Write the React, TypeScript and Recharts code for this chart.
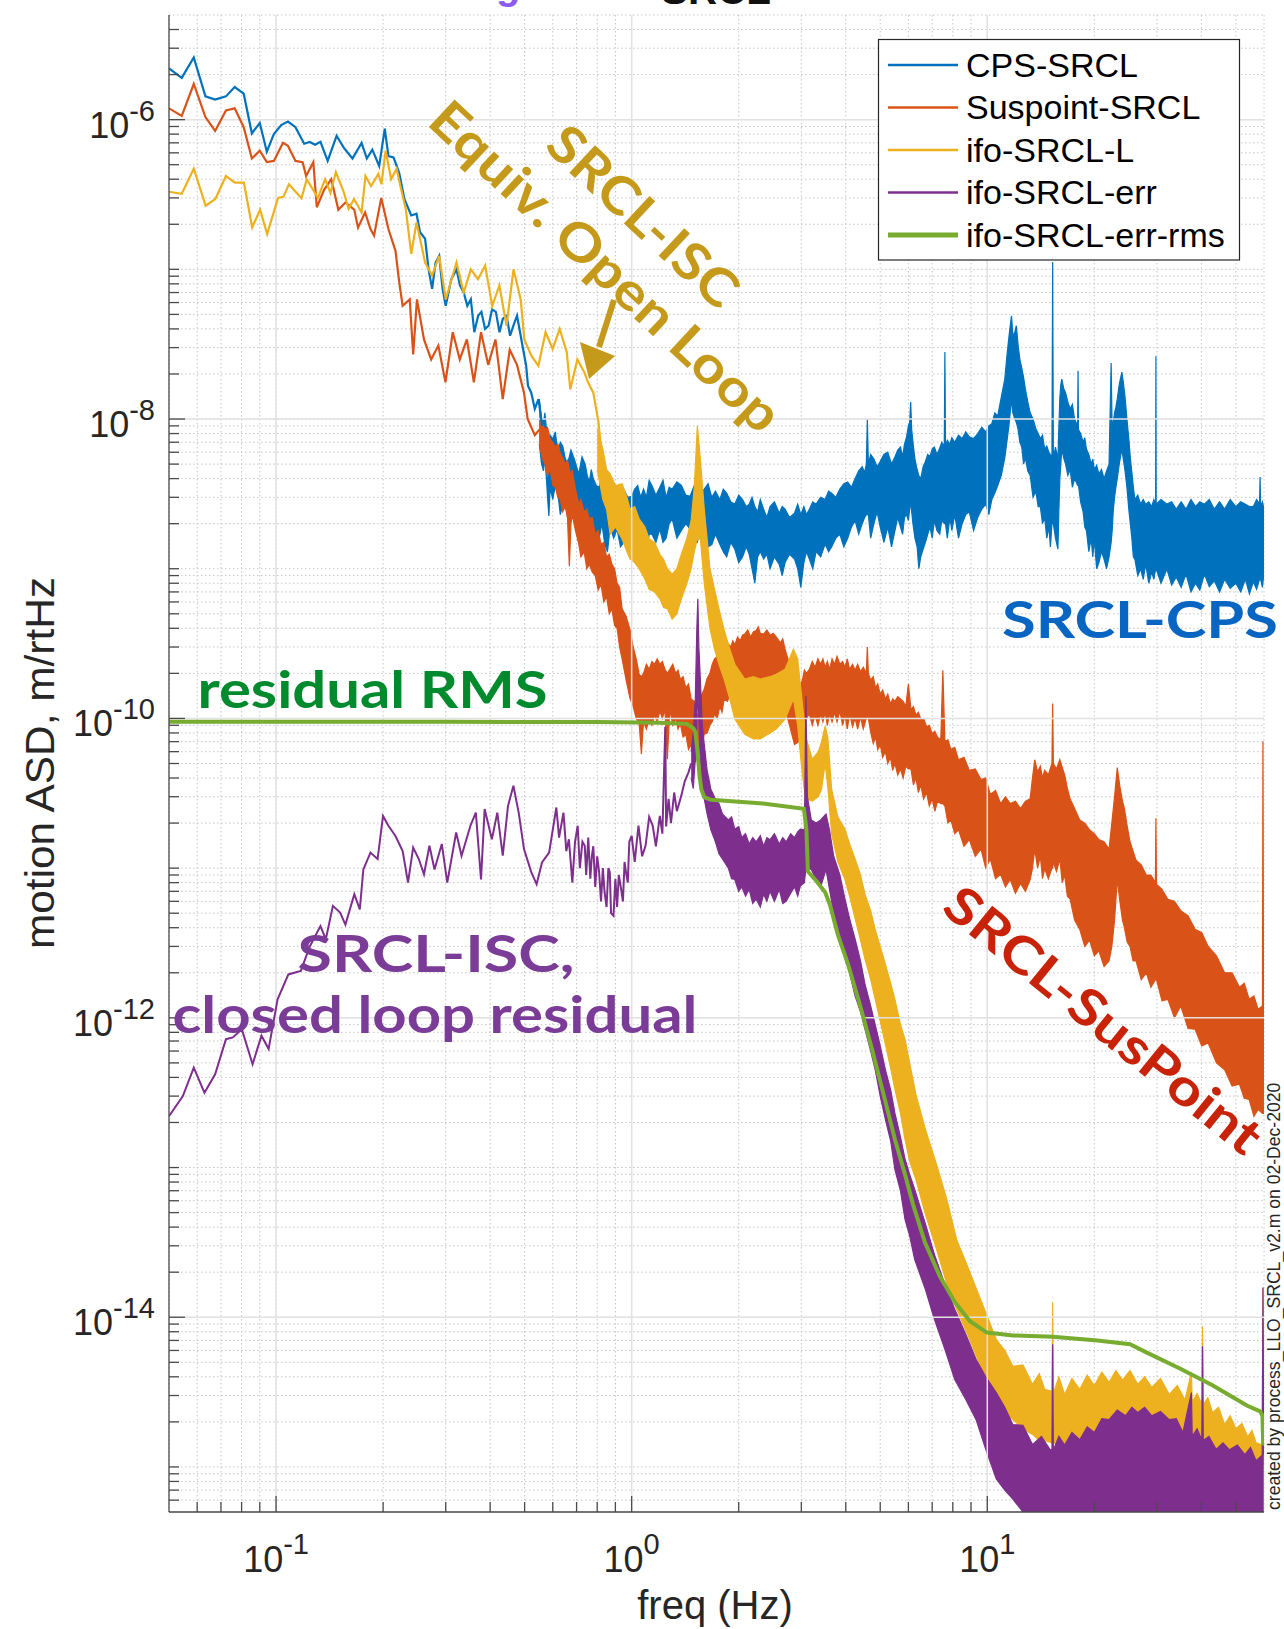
import React from 'react';
import { ComposedChart, Line, Area, XAxis, YAxis, CartesianGrid } from 'recharts';

type P = [number, number];
type B = [number, number, number];

// ---------------- data (freq Hz, ASD m/rtHz) ----------------
const cpsLine: P[] = [
  [0.05,2.2e-6],[0.0543,1.9e-6],[0.0587,2.6e-6],[0.0633,1.43e-6],[0.0674,1.36e-6],[0.0723,1.43e-6],[0.0765,1.65e-6],[0.0811,1.49e-6],[0.0855,8.1e-7],[0.09,9.5e-7],[0.0942,6.1e-7],[0.0986,8.0e-7],[0.1034,9.2e-7],[0.108,9.7e-7],[0.1134,8.9e-7],[0.12,6.9e-7],[0.1243,7.1e-7],[0.1288,6.8e-7],[0.1333,7.1e-7],[0.1397,5.3e-7],[0.148,7.8e-7],[0.155,6.5e-7],[0.164,5.5e-7],[0.174,7.0e-7],[0.18,5.5e-7],[0.1865,6.3e-7],[0.195,4.9e-7],[0.2022,8.7e-7],[0.207,5.7e-7],[0.214,5.6e-7],[0.222,4.4e-7],[0.2295,2.95e-7],[0.24,2.29e-7],[0.2483,2.35e-7],[0.254,1.77e-7],[0.2625,1.6e-7],[0.2685,1.0e-7],[0.2747,7.4e-8],[0.281,1.11e-7],[0.2876,1.23e-7],[0.294,7.4e-8],[0.3,5.7e-8],[0.311,8.6e-8],[0.3217,1.0e-7],[0.329,7.8e-8],[0.337,7.0e-8],[0.345,5.7e-8],[0.353,6.3e-8],[0.361,3.8e-8],[0.37,4.9e-8],[0.378,5.2e-8],[0.387,4.0e-8],[0.396,4.2e-8],[0.405,5.4e-8],[0.415,5.2e-8],[0.425,3.8e-8],[0.434,4.66e-8],[0.445,4.9e-8],[0.455,3.6e-8],[0.465,4.2e-8],[0.476,4.9e-8],[0.4875,3.6e-8],[0.493,3.1e-8],[0.505,2.27e-8],[0.511,1.67e-8],[0.522,1.5e-8],[0.534,1.17e-8],[0.547,1.36e-8],[0.56,9.0e-9]
];
const cpsBand: B[] = [
  [0.55,6.8e-9,1.36e-8],[0.558,5.0e-9,1.0e-8],[0.565,4.5e-9,9.5e-9],[0.57,5.5e-9,1.1e-8],[0.576,4.0e-9,8.6e-9],[0.58,3.0e-9,8.0e-9],[0.585,2.25e-9,7.0e-9],[0.59,3.5e-9,7.8e-9],[0.6,2.9e-9,7.35e-9],[0.61,3.6e-9,8.2e-9],[0.62,3.2e-9,6.0e-9],[0.63,2.3e-9,7.0e-9],[0.64,2.7e-9,6.6e-9],[0.65,3.2e-9,5.5e-9],[0.66,2.2e-9,5.0e-9],[0.675,2.8e-9,6.2e-9],[0.69,2.5e-9,5.4e-9],[0.7,1.9e-9,4.8e-9],[0.71,2.0e-9,4.3e-9],[0.725,2.5e-9,5.6e-9],[0.74,2.15e-9,5.0e-9],[0.75,1.6e-9,4.2e-9],[0.76,1.7e-9,3.8e-9],[0.77,2.2e-9,4.6e-9],[0.78,1.99e-9,4.0e-9],[0.795,1.5e-9,3.6e-9],[0.81,1.6e-9,3.5e-9],[0.825,2.0e-9,4.1e-9],[0.84,1.46e-9,3.6e-9],[0.855,1.3e-9,3.2e-9],[0.87,1.9e-9,3.0e-9],[0.89,1.6e-9,3.7e-9],[0.91,1.84e-9,3.25e-9],[0.93,1.4e-9,2.9e-9],[0.95,1.5e-9,3.4e-9],[0.975,1.9e-9,3.0e-9],[1.0,1.7e-9,3.05e-9],[1.02,1.3e-9,3.4e-9],[1.04,1.45e-9,3.6e-9],[1.06,1.8e-9,3.0e-9],[1.08,1.58e-9,3.4e-9],[1.1,1.25e-9,3.0e-9],[1.12,1.7e-9,3.9e-9],[1.14,1.7e-9,3.6e-9],[1.17,1.5e-9,3.1e-9],[1.2,1.84e-9,3.5e-9],[1.225,1.5e-9,3.9e-9],[1.25,1.6e-9,3.0e-9],[1.275,2.0e-9,3.5e-9],[1.3,2.15e-9,3.4e-9],[1.34,1.6e-9,3.8e-9],[1.38,1.8e-9,3.6e-9],[1.42,2.0e-9,3.1e-9],[1.46,1.84e-9,3.05e-9],[1.5,1.5e-9,3.6e-9],[1.53,1.5e-9,3.6e-9],[1.56,1.9e-9,3.2e-9],[1.6,1.7e-9,3.4e-9],[1.64,1.4e-9,3.7e-9],[1.68,1.45e-9,3.0e-9],[1.72,1.7e-9,3.3e-9],[1.77,1.46e-9,2.9e-9],[1.81,1.3e-9,3.4e-9],[1.85,1.2e-9,3.2e-9],[1.9,1.5e-9,2.8e-9],[1.95,1.35e-9,2.7e-9],[2.0,1.1e-9,3.1e-9],[2.05,1.2e-9,2.9e-9],[2.1,1.4e-9,2.6e-9],[2.14,1.25e-9,2.7e-9],[2.18,1.0e-9,3.0e-9],[2.22,8.0e-10,2.6e-9],[2.26,1.2e-9,2.4e-9],[2.3,1.3e-9,2.9e-9],[2.35,1.16e-9,2.5e-9],[2.4,1.25e-9,2.2e-9],[2.45,1.0e-9,2.6e-9],[2.52,1.2e-9,2.8e-9],[2.6,1.07e-9,2.35e-9],[2.65,9.0e-10,2.6e-9],[2.7,1.1e-9,2.5e-9],[2.78,1.25e-9,2.2e-9],[2.87,1.16e-9,2.35e-9],[2.93,1.0e-9,2.7e-9],[2.99,7.5e-10,2.3e-9],[3.05,1.1e-9,2.6e-9],[3.1,1.3e-9,2.3e-9],[3.16,1.16e-9,2.5e-9],[3.23,1.0e-9,2.8e-9],[3.3,1.3e-9,2.7e-9],[3.4,1.2e-9,3.0e-9],[3.5,1.46e-9,2.9e-9],[3.58,1.3e-9,3.3e-9],[3.65,1.4e-9,3.2e-9],[3.75,1.6e-9,3.0e-9],[3.85,1.7e-9,3.4e-9],[3.95,1.4e-9,3.7e-9],[4.05,1.6e-9,3.8e-9],[4.15,1.9e-9,3.5e-9],[4.25,2.1e-9,4.0e-9],[4.35,1.7e-9,4.5e-9],[4.45,2.0e-9,4.8e-9],[4.52,2.2e-9,4.4e-9],[4.57,2.3e-9,5.0e-9],[4.6,2.3e-9,1.0e-8],[4.63,2.3e-9,5.0e-9],[4.7,1.6e-9,5.8e-9],[4.8,2.0e-9,5.4e-9],[4.9,2.4e-9,4.8e-9],[5.0,1.9e-9,5.2e-9],[5.12,1.5e-9,5.8e-9],[5.25,1.9e-9,6.0e-9],[5.38,1.4e-9,5.0e-9],[5.5,1.8e-9,5.6e-9],[5.6,2.2e-9,6.2e-9],[5.7,1.9e-9,6.5e-9],[5.78,1.7e-9,5.6e-9],[5.85,2.2e-9,6.8e-9],[5.93,2.3e-9,7.6e-9],[6.0,2.1e-9,9.0e-9],[6.05,2.5e-9,9.5e-9],[6.09,2.8e-9,1.3e-8],[6.13,2.4e-9,8.5e-9],[6.18,2.0e-9,7.0e-9],[6.26,1.6e-9,5.4e-9],[6.35,1.4e-9,4.6e-9],[6.42,1.0e-9,4.2e-9],[6.5,1.2e-9,4.0e-9],[6.6,1.35e-9,4.8e-9],[6.7,1.5e-9,5.2e-9],[6.8,1.7e-9,5.8e-9],[6.9,1.9e-9,5.6e-9],[7.0,1.6e-9,6.3e-9],[7.1,2.1e-9,6.5e-9],[7.22,1.8e-9,5.8e-9],[7.35,1.7e-9,6.4e-9],[7.45,2.1e-9,7.0e-9],[7.57,2.0e-9,6.6e-9],[7.6,2.0e-9,2.8e-8],[7.63,2.0e-9,6.6e-9],[7.72,1.6e-9,7.2e-9],[7.85,2.2e-9,6.8e-9],[7.95,1.8e-9,7.5e-9],[8.1,2.3e-9,7.0e-9],[8.3,1.6e-9,7.8e-9],[8.5,2.0e-9,7.4e-9],[8.7,2.3e-9,8.2e-9],[8.9,2.4e-9,7.6e-9],[9.15,1.8e-9,7.4e-9],[9.4,2.2e-9,8.0e-9],[9.65,2.5e-9,8.8e-9],[9.9,2.7e-9,8.2e-9],[10.1,2.3e-9,9.0e-9],[10.3,2.9e-9,9.3e-9],[10.5,3.2e-9,1.1e-8],[10.7,3.6e-9,1.05e-8],[10.95,4.2e-9,1.4e-8],[11.2,5.5e-9,1.85e-8],[11.35,7.0e-9,2.6e-8],[11.5,9.0e-9,3.5e-8],[11.6,1.1e-8,4.2e-8],[11.7,1.36e-8,4.9e-8],[11.8,1.1e-8,3.6e-8],[11.95,1.0e-8,3.8e-8],[12.07,9.5e-9,4.2e-8],[12.2,8.6e-9,3.17e-8],[12.35,7.0e-9,2.5e-8],[12.5,6.5e-9,2.2e-8],[12.65,5.0e-9,1.9e-8],[12.8,5.5e-9,1.58e-8],[13.0,4.5e-9,1.3e-8],[13.2,4.2e-9,1.1e-8],[13.45,3.0e-9,1.0e-8],[13.7,3.3e-9,8.6e-9],[13.9,2.6e-9,8.0e-9],[14.1,2.6e-9,7.4e-9],[14.3,2.0e-9,7.8e-9],[14.5,2.2e-9,6.3e-9],[14.7,1.6e-9,6.6e-9],[14.9,1.9e-9,6.0e-9],[15.05,1.4e-9,5.8e-9],[15.2,2.0e-9,5.4e-9],[15.27,2.0e-9,1.12e-7],[15.34,2.0e-9,5.4e-9],[15.55,1.6e-9,6.5e-9],[15.8,1.35e-9,5.4e-9],[15.9,2.5e-9,9.0e-9],[16.0,4.0e-9,1.4e-8],[16.1,5.0e-9,1.7e-8],[16.2,6.3e-9,1.85e-8],[16.4,5.5e-9,1.6e-8],[16.6,5.0e-9,1.5e-8],[16.85,4.2e-9,1.3e-8],[17.1,4.6e-9,1.17e-8],[17.35,3.5e-9,1.25e-8],[17.6,4.0e-9,1.0e-8],[17.95,3.6e-9,9.0e-9],[18.0,3.6e-9,2.1e-8],[18.05,3.6e-9,8.5e-9],[18.3,2.8e-9,8.0e-9],[18.6,2.4e-9,7.0e-9],[18.8,1.9e-9,7.5e-9],[19.0,1.8e-9,6.3e-9],[19.3,1.3e-9,5.8e-9],[19.6,1.6e-9,5.0e-9],[19.8,1.2e-9,5.4e-9],[20.0,1.58e-9,4.6e-9],[20.3,1.0e-9,4.9e-9],[20.6,1.1e-9,4.3e-9],[20.95,1.3e-9,4.6e-9],[21.3,1.16e-9,4.0e-9],[21.65,1.0e-9,4.5e-9],[22.0,1.2e-9,5.0e-9],[22.3,1.5e-9,2.37e-8],[22.45,1.8e-9,8.0e-9],[22.6,2.4e-9,9.5e-9],[22.8,3.0e-9,1.1e-8],[23.0,3.5e-9,1.2e-8],[23.2,4.0e-9,1.36e-8],[23.5,5.0e-9,1.7e-8],[23.9,6.3e-9,2.06e-8],[24.1,5.5e-9,1.8e-8],[24.4,4.5e-9,1.4e-8],[24.7,3.5e-9,1.0e-8],[25.0,2.5e-9,7.4e-9],[25.25,2.0e-9,5.5e-9],[25.5,1.6e-9,4.4e-9],[25.75,1.2e-9,3.5e-9],[26.0,1.16e-9,2.9e-9],[26.5,9.0e-10,3.1e-9],[27.0,1.0e-9,2.7e-9],[27.45,8.5e-10,2.9e-9],[27.9,1.08e-9,2.7e-9],[28.45,8.0e-10,2.8e-9],[29.0,9.5e-10,2.6e-9],[29.4,8.5e-10,2.9e-9],[29.75,1.0e-9,2.7e-9],[29.8,1.0e-9,2.63e-8],[29.85,1.0e-9,2.7e-9],[30.8,8.0e-10,2.9e-9],[32,9.95e-10,2.7e-9],[33,7.8e-10,2.8e-9],[34,8.8e-10,2.5e-9],[35.1,7.5e-10,2.8e-9],[36.2,9.2e-10,2.5e-9],[37.4,7.0e-10,2.9e-9],[38.5,8.0e-10,2.6e-9],[39.6,7.2e-10,2.8e-9],[40.8,9.2e-10,2.7e-9],[42.1,7.6e-10,2.9e-9],[43.5,8.3e-10,2.5e-9],[45.0,7.0e-10,2.8e-9],[46.5,8.5e-10,2.5e-9],[48.2,7.4e-10,2.9e-9],[50,8.0e-10,2.6e-9],[51.6,7.0e-10,2.8e-9],[53.2,8.5e-10,2.7e-9],[54.6,6.8e-10,2.6e-9],[56,8.2e-10,2.6e-9],[57.2,7.3e-10,2.9e-9],[58.3,8.5e-10,2.7e-9],[58.5,8.5e-10,4.1e-9],[58.7,8.5e-10,2.6e-9],[59.4,7.5e-10,2.8e-9],[60,9.5e-10,2.5e-9]
];

const susLine: P[] = [
  [0.05,1.19e-6],[0.0543,1.06e-6],[0.0587,1.73e-6],[0.0633,1.04e-6],[0.0674,8.4e-7],[0.0723,1.15e-6],[0.0765,1.19e-6],[0.0811,8.9e-7],[0.0855,5.5e-7],[0.09,6.2e-7],[0.0942,5.2e-7],[0.0986,5.3e-7],[0.1046,7.0e-7],[0.108,6.7e-7],[0.1134,5.3e-7],[0.1188,5.2e-7],[0.1215,4.2e-7],[0.1273,5.2e-7],[0.1302,2.6e-7],[0.1365,3.4e-7],[0.143,4.0e-7],[0.1497,2.5e-7],[0.1568,2.8e-7],[0.166,2.5e-7],[0.17,1.9e-7],[0.178,2.4e-7],[0.1843,1.86e-7],[0.1886,1.68e-7],[0.1976,3.0e-7],[0.207,1.86e-7],[0.2167,1.33e-7],[0.222,8.2e-8],[0.227,5.7e-8],[0.2376,6.3e-8],[0.243,2.7e-8],[0.249,6.3e-8],[0.2606,3.4e-8],[0.273,2.5e-8],[0.286,3.1e-8],[0.2995,1.76e-8],[0.314,3.8e-8],[0.3286,2.5e-8],[0.344,3.4e-8],[0.36,1.76e-8],[0.377,3.8e-8],[0.395,2.3e-8],[0.414,3.4e-8],[0.434,1.36e-8],[0.454,2.9e-8],[0.476,2.3e-8],[0.498,1.5e-8],[0.51,1.0e-8],[0.534,7.8e-9],[0.55,8.5e-9]
];
const susBand: B[] = [
  [0.55,6.8e-9,1.0e-8],[0.56,5.5e-9,9.5e-9],[0.57,5.0e-9,8.5e-9],[0.58,4.2e-9,8.8e-9],[0.59,4.6e-9,7.35e-9],[0.6,3.6e-9,7.0e-9],[0.61,3.5e-9,6.5e-9],[0.62,3.0e-9,6.8e-9],[0.63,2.9e-9,5.9e-9],[0.64,2.4e-9,5.5e-9],[0.65,2.6e-9,5.0e-9],[0.66,2.2e-9,5.3e-9],[0.668,1.04e-9,4.6e-9],[0.675,2.0e-9,4.2e-9],[0.68,2.3e-9,4.6e-9],[0.695,1.8e-9,3.4e-9],[0.71,1.46e-9,2.7e-9],[0.72,1.2e-9,2.9e-9],[0.735,1.3e-9,2.4e-9],[0.748,1.0e-9,2.5e-9],[0.76,1.07e-9,2.15e-9],[0.775,9.5e-10,2.2e-9],[0.79,9.0e-10,1.7e-9],[0.805,7.2e-10,1.8e-9],[0.82,7.9e-10,1.46e-9],[0.835,6.0e-10,1.5e-9],[0.85,6.5e-10,1.2e-9],[0.865,5.0e-10,1.25e-9],[0.88,5.4e-10,1.07e-9],[0.895,4.2e-10,1.0e-9],[0.91,4.0e-10,8.0e-10],[0.925,3.0e-10,7.5e-10],[0.94,2.5e-10,5.4e-10],[0.965,1.8e-10,4.8e-10],[0.99,1.35e-10,3.9e-10],[1.01,1.2e-10,3.0e-10],[1.03,1.0e-10,2.5e-10],[1.05,9.2e-11,1.97e-10],[1.065,5.8e-11,1.9e-10],[1.08,9.5e-11,2.0e-10],[1.1,8.5e-11,2.3e-10],[1.12,9.9e-11,2.13e-10],[1.14,9.0e-11,2.4e-10],[1.16,1.05e-10,2.3e-10],[1.18,9.5e-11,2.5e-10],[1.2,1.12e-10,2.3e-10],[1.22,1.0e-10,2.4e-10],[1.24,1.15e-10,2.13e-10],[1.26,5.35e-11,2.0e-10],[1.28,1.15e-10,2.13e-10],[1.305,9.0e-11,2.3e-10],[1.33,1.0e-10,2.0e-10],[1.35,8.5e-11,2.1e-10],[1.37,9.2e-11,1.83e-10],[1.395,7.5e-11,1.9e-10],[1.42,7.8e-11,1.6e-10],[1.445,6.2e-11,1.7e-10],[1.47,6.7e-11,1.35e-10],[1.5,5.0e-11,1.3e-10],[1.53,5.5e-11,1.0e-10],[1.565,6.0e-11,1.4e-10],[1.6,7.85e-11,1.57e-10],[1.63,8.0e-11,1.85e-10],[1.66,9.0e-11,2.0e-10],[1.685,9.5e-11,2.3e-10],[1.71,1.07e-10,2.5e-10],[1.74,1.0e-10,2.6e-10],[1.77,1.2e-10,2.7e-10],[1.795,1.1e-10,2.8e-10],[1.82,1.35e-10,2.9e-10],[1.86,1.3e-10,3.2e-10],[1.9,1.5e-10,3.0e-10],[1.925,1.35e-10,3.3e-10],[1.95,1.6e-10,3.1e-10],[1.985,1.4e-10,3.5e-10],[2.02,1.5e-10,3.3e-10],[2.05,1.4e-10,3.6e-10],[2.08,1.6e-10,3.66e-10],[2.12,1.5e-10,3.9e-10],[2.16,1.7e-10,3.5e-10],[2.2,1.55e-10,3.8e-10],[2.24,1.85e-10,3.86e-10],[2.27,1.6e-10,4.1e-10],[2.3,1.7e-10,3.7e-10],[2.35,1.7e-10,3.66e-10],[2.4,1.5e-10,3.9e-10],[2.45,1.6e-10,3.6e-10],[2.5,1.4e-10,3.7e-10],[2.55,1.45e-10,3.5e-10],[2.62,1.3e-10,3.2e-10],[2.66,1.1e-10,3.4e-10],[2.7,1.15e-10,2.9e-10],[2.78,9.0e-11,2.3e-10],[2.87,6.7e-11,1.8e-10],[2.95,7.0e-11,1.57e-10],[3.02,8.5e-11,1.8e-10],[3.06,9.0e-11,2.1e-10],[3.1,1.0e-10,2.0e-10],[3.16,1.07e-10,2.13e-10],[3.22,9.0e-11,2.4e-10],[3.28,1.05e-10,2.2e-10],[3.34,9.0e-11,2.5e-10],[3.4,1.07e-10,2.3e-10],[3.45,9.5e-11,2.5e-10],[3.5,1.1e-10,2.2e-10],[3.55,9.0e-11,2.4e-10],[3.6,1.07e-10,2.13e-10],[3.66,9.5e-11,2.5e-10],[3.72,1.1e-10,2.3e-10],[3.78,9.5e-11,2.6e-10],[3.85,1.12e-10,2.3e-10],[3.92,9.0e-11,2.4e-10],[3.98,1.05e-10,2.2e-10],[4.04,8.5e-11,2.5e-10],[4.1,1.07e-10,2.13e-10],[4.18,8.8e-11,2.3e-10],[4.25,1.0e-10,2.1e-10],[4.32,8.5e-11,2.3e-10],[4.4,1.02e-10,2.05e-10],[4.48,8.5e-11,2.2e-10],[4.57,1.0e-10,2.0e-10],[4.6,1.0e-10,3.0e-10],[4.63,1.0e-10,2.0e-10],[4.7,8.1e-11,1.8e-10],[4.78,6.8e-11,1.9e-10],[4.85,7.5e-11,1.6e-10],[4.92,6.2e-11,1.7e-10],[5.0,6.7e-11,1.45e-10],[5.08,5.5e-11,1.55e-10],[5.17,6.0e-11,1.35e-10],[5.25,5.0e-11,1.45e-10],[5.34,5.5e-11,1.25e-10],[5.42,4.5e-11,1.35e-10],[5.5,5.0e-11,1.3e-10],[5.6,4.2e-11,1.4e-10],[5.7,4.6e-11,1.35e-10],[5.8,4.0e-11,1.3e-10],[5.9,4.8e-11,1.2e-10],[6.0,4.6e-11,1.7e-10],[6.1,4.6e-11,1.15e-10],[6.2,3.6e-11,1.2e-10],[6.3,4.0e-11,1.05e-10],[6.4,3.2e-11,1.1e-10],[6.5,3.6e-11,9.9e-11],[6.62,2.9e-11,1.0e-10],[6.75,3.2e-11,8.8e-11],[6.87,2.6e-11,9.0e-11],[7.0,2.9e-11,7.9e-11],[7.12,2.4e-11,8.2e-11],[7.25,2.8e-11,7.5e-11],[7.4,2.7e-11,7.2e-11],[7.5,2.7e-11,2.1e-10],[7.6,2.6e-11,7.0e-11],[7.75,2.0e-11,7.2e-11],[7.9,2.1e-11,6.2e-11],[8.1,1.7e-11,6.4e-11],[8.3,1.8e-11,5.3e-11],[8.6,1.4e-11,5.5e-11],[8.9,1.55e-11,4.5e-11],[9.25,1.2e-11,4.6e-11],[9.6,1.34e-11,3.9e-11],[9.9,1.0e-11,4.0e-11],[10.2,1.15e-11,3.1e-11],[10.55,8.5e-12,3.3e-11],[10.9,9.1e-12,2.7e-11],[11.25,7.5e-12,3.0e-11],[11.6,8.4e-12,2.7e-11],[12.0,6.8e-12,2.8e-11],[12.4,7.9e-12,2.5e-11],[12.8,7.0e-12,2.8e-11],[13.2,8.4e-12,2.9e-11],[13.4,1.0e-11,4.0e-11],[13.6,1.34e-11,5.3e-11],[13.85,1.0e-11,4.4e-11],[14.1,1.2e-11,4.8e-11],[14.3,8.5e-12,4.0e-11],[14.5,9.9e-12,4.5e-11],[14.85,8.5e-12,4.2e-11],[15.2,1.0e-11,5.0e-11],[15.27,1.0e-11,1.26e-10],[15.34,1.1e-11,5.0e-11],[15.65,9.5e-12,4.6e-11],[16.0,1.15e-11,5.3e-11],[16.25,8.0e-12,4.7e-11],[16.5,9.0e-12,4.2e-11],[16.8,6.5e-12,3.4e-11],[17.1,6.2e-12,2.9e-11],[17.6,4.5e-12,2.5e-11],[18.2,3.9e-12,2.1e-11],[18.8,3.0e-12,2.0e-11],[19.4,3.3e-12,1.8e-11],[20.0,2.6e-12,1.7e-11],[20.6,2.8e-12,1.55e-11],[21.3,2.2e-12,1.5e-11],[22.0,2.4e-12,1.34e-11],[22.4,3.0e-12,2.0e-11],[22.8,4.5e-12,3.0e-11],[23.2,8.4e-12,4.7e-11],[23.6,6.0e-12,3.5e-11],[24.0,4.5e-12,2.8e-11],[24.3,4.0e-12,2.5e-11],[24.75,3.2e-12,1.9e-11],[25.2,3.0e-12,1.5e-11],[25.7,2.4e-12,1.3e-11],[26.2,2.4e-12,1.13e-11],[27.1,1.8e-12,1.05e-11],[28.0,2.0e-12,9.0e-12],[28.85,1.6e-12,9.0e-12],[29.7,1.8e-12,8.0e-12],[29.8,1.8e-12,2.15e-11],[29.9,1.8e-12,7.8e-12],[31.0,1.3e-12,7.2e-12],[32.2,1.33e-12,6.2e-12],[33.6,1.0e-12,6.0e-12],[35.0,1.2e-12,5.2e-12],[36.7,8.5e-13,4.8e-12],[38.4,8.4e-13,3.9e-12],[40.1,6.5e-13,3.7e-12],[41.8,6.8e-13,3.0e-12],[44.1,5.0e-13,2.6e-12],[46.5,4.5e-13,2.0e-12],[48.8,3.5e-13,2.0e-12],[51.2,3.6e-13,1.6e-12],[52.8,2.9e-13,1.7e-12],[54.5,2.85e-13,1.33e-12],[56.2,2.2e-13,1.4e-12],[57.8,2.44e-13,1.14e-12],[59.4,2.3e-13,1.2e-12],[59.6,2.3e-13,7.05e-11],[59.8,2.3e-13,1.3e-12],[60,3.3e-13,1.33e-12]
];

const ifoLLine: P[] = [
  [0.05,3.3e-7],[0.0543,3.2e-7],[0.0587,4.7e-7],[0.0634,2.66e-7],[0.0675,2.95e-7],[0.0723,4.2e-7],[0.0766,3.8e-7],[0.0812,3.8e-7],[0.0857,1.91e-7],[0.0902,2.5e-7],[0.0944,1.72e-7],[0.1013,3.0e-7],[0.1049,3.05e-7],[0.1087,3.7e-7],[0.1179,2.98e-7],[0.122,4.0e-7],[0.1311,3.0e-7],[0.1374,4.0e-7],[0.1422,3.24e-7],[0.1473,4.45e-7],[0.1545,3.36e-7],[0.16,2.53e-7],[0.1657,2.95e-7],[0.174,2.4e-7],[0.1784,4.2e-7],[0.185,3.6e-7],[0.194,4.34e-7],[0.1978,3.7e-7],[0.2033,6.2e-7],[0.2107,4.0e-7],[0.2183,4.7e-7],[0.2237,3.6e-7],[0.2316,2.53e-7],[0.24,1.27e-7],[0.2483,2.06e-7],[0.2625,1.11e-7],[0.2747,9.1e-8],[0.2876,1.23e-7],[0.3,6.3e-8],[0.3217,1.11e-7],[0.337,7.0e-8],[0.353,1.0e-7],[0.3697,8.6e-8],[0.3873,1.06e-7],[0.4054,5.7e-8],[0.4246,7.8e-8],[0.4447,4.2e-8],[0.4653,1.0e-7],[0.4875,6.3e-8],[0.499,3.4e-8],[0.5223,2.65e-8],[0.5466,2.27e-8],[0.5726,3.8e-8],[0.5995,2.94e-8],[0.6275,4.0e-8],[0.657,2.8e-8],[0.672,1.58e-8],[0.7036,2.5e-8],[0.7364,2.05e-8],[0.7535,1.76e-8],[0.78,1.5e-8],[0.8069,9.5e-9],[0.8257,5.4e-9]
];
const ifoLBand: B[] = [
  [0.8,4.6e-9,8.6e-9],[0.83,2.9e-9,6.3e-9],[0.85,2.5e-9,4.6e-9],[0.87,1.7e-9,4.3e-9],[0.9,1.9e-9,3.6e-9],[0.94,1.58e-9,3.7e-9],[0.97,1.3e-9,3.0e-9],[0.99,1.16e-9,2.5e-9],[1.02,1.1e-9,2.6e-9],[1.05,1.0e-9,2.15e-9],[1.09,8.5e-10,1.9e-9],[1.12,7.3e-10,1.58e-9],[1.16,7.0e-10,1.5e-9],[1.2,6.3e-10,1.25e-9],[1.23,5.5e-10,1.15e-9],[1.26,5.4e-10,1.0e-9],[1.3,4.6e-10,9.2e-10],[1.34,5.0e-10,1.0e-9],[1.38,6.3e-10,1.25e-9],[1.43,8.0e-10,1.6e-9],[1.47,1.0e-9,2.1e-9],[1.5,1.3e-9,3.5e-9],[1.53,1.58e-9,9.0e-9],[1.56,1.58e-9,5.4e-9],[1.6,8.0e-10,2.5e-9],[1.62,6.3e-10,1.84e-9],[1.66,4.0e-10,1.0e-9],[1.71,2.9e-10,7.3e-10],[1.76,2.3e-10,5.4e-10],[1.82,1.83e-10,3.9e-10],[1.88,1.4e-10,3.0e-10],[1.95,9.9e-11,2.3e-10],[2.08,7.85e-11,1.83e-10],[2.2,7.3e-11,1.9e-10],[2.3,7.3e-11,1.83e-10],[2.45,8.0e-11,1.9e-10],[2.55,8.5e-11,1.97e-10],[2.7,9.9e-11,2.13e-10],[2.85,1.35e-10,2.9e-10],[2.93,9.0e-11,2.5e-10],[2.99,5.35e-11,1.57e-10],[3.05,3.5e-11,1.0e-10],[3.1,2.9e-11,7.3e-11],[3.22,2.8e-11,5.35e-11],[3.35,3.0e-11,6.0e-11],[3.42,3.37e-11,7.0e-11],[3.5,5.0e-11,8.9e-11],[3.56,3.5e-11,7.5e-11],[3.65,1.69e-11,3.37e-11],[3.8,1.1e-11,2.2e-11],[3.98,8.4e-12,1.82e-11],[4.1,6.5e-12,1.45e-11],[4.25,4.6e-12,1.15e-11],[4.4,3.3e-12,9.0e-12],[4.53,2.47e-12,6.7e-12],[4.7,1.8e-12,5.2e-12],[4.84,1.33e-12,3.9e-12],[5.0,9.5e-13,3.0e-12],[5.17,6.65e-13,2.28e-12],[5.35,4.6e-13,1.7e-12],[5.5,3.33e-13,1.33e-12],[5.7,2.3e-13,9.0e-13],[5.87,1.54e-13,7.2e-13],[6.05,1.1e-13,5.0e-13],[6.3,8.3e-14,3.08e-13],[6.7,4.86e-14,1.8e-13],[7.2,2.84e-14,1.05e-13],[7.7,1.66e-14,6.1e-14],[8.2,1.13e-14,3.3e-14],[8.8,7.7e-15,2.19e-14],[9.4,5.24e-15,1.47e-14],[10.0,3.56e-15,1.01e-14],[10.6,2.82e-15,7.1e-15],[11.2,2.3e-15,6.0e-15],[11.8,2.07e-15,4.7e-15],[12.6,1.8e-15,4.8e-15],[13.4,1.65e-15,3.56e-15],[14.0,1.5e-15,4.2e-15],[14.5,1.5e-15,3.3e-15],[15.2,1.45e-15,3.2e-15],[15.27,1.45e-15,1.26e-14],[15.34,1.45e-15,3.1e-15],[15.9,1.4e-15,4.0e-15],[16.5,1.4e-15,3.05e-15],[17.3,1.4e-15,3.9e-15],[18.2,1.53e-15,3.3e-15],[19.1,1.5e-15,4.1e-15],[20,1.6e-15,3.5e-15],[21,1.6e-15,4.3e-15],[22,1.7e-15,3.67e-15],[23,1.6e-15,4.4e-15],[24,1.6e-15,3.8e-15],[25.2,1.6e-15,4.4e-15],[26.5,1.55e-15,3.56e-15],[27.7,1.5e-15,4.0e-15],[29,1.5e-15,3.4e-15],[30.7,1.45e-15,3.9e-15],[32.5,1.41e-15,3.05e-15],[34.2,1.4e-15,3.5e-15],[36,1.35e-15,2.8e-15],[37.5,1.35e-15,4.3e-15],[37.7,1.35e-15,2.7e-15],[38.9,1.3e-15,3.1e-15],[40.1,1.31e-15,2.62e-15],[40.3,1.31e-15,8.7e-15],[40.5,1.31e-15,2.6e-15],[41.7,1.28e-15,2.9e-15],[43,1.25e-15,2.3e-15],[44.7,1.2e-15,2.5e-15],[46.5,1.2e-15,1.92e-15],[48.2,1.15e-15,2.2e-15],[50,1.15e-15,1.8e-15],[52,1.1e-15,1.95e-15],[54,1.1e-15,1.6e-15],[55.5,1.08e-15,1.75e-15],[57,1.05e-15,1.45e-15],[59.3,1.04e-15,1.4e-15],[59.6,1.04e-15,1.58e-14],[59.9,1.04e-15,1.4e-15]
];

const errLine: P[] = [
  [0.05,2.2e-13],[0.0547,3.0e-13],[0.0587,4.65e-13],[0.0629,3.16e-13],[0.0674,4.2e-13],[0.0723,7.2e-13],[0.0756,7.4e-13],[0.0801,8.4e-13],[0.0859,4.9e-13],[0.091,7.6e-13],[0.0953,6.2e-13],[0.101,1.33e-12],[0.1083,1.95e-12],[0.1174,2.06e-12],[0.1244,3.0e-12],[0.1333,4.1e-12],[0.138,3.35e-12],[0.1445,5.6e-12],[0.1514,5.05e-12],[0.1567,4.2e-12],[0.166,6.7e-12],[0.172,5.3e-12],[0.176,9.8e-12],[0.1843,1.27e-11],[0.193,1.15e-11],[0.1999,2.23e-11],[0.207,1.92e-11],[0.2167,1.64e-11],[0.227,1.3e-11],[0.235,8.0e-12],[0.243,1.37e-11],[0.252,1.15e-11],[0.2606,9.1e-12],[0.27,1.41e-11],[0.279,9.8e-12],[0.2925,1.45e-11],[0.303,8.0e-12],[0.321,1.73e-11],[0.3324,1.21e-11],[0.352,1.92e-11],[0.3646,2.35e-11],[0.377,8.4e-12],[0.386,2.48e-11],[0.4045,1.56e-11],[0.419,2.35e-11],[0.434,1.21e-11],[0.449,2.6e-11],[0.465,3.55e-11],[0.4812,2.35e-11],[0.498,1.34e-11],[0.522,9.4e-12],[0.5405,7.8e-12],[0.5595,1.09e-11],[0.586,1.27e-11],[0.614,2.54e-11],[0.625,1.6e-11],[0.643,2.35e-11],[0.655,1.3e-11],[0.666,1.56e-11],[0.681,8.0e-12],[0.693,1.5e-11],[0.705,1.92e-11],[0.715,1.0e-11],[0.727,1.5e-11],[0.738,1.41e-11],[0.745,9.0e-12],[0.755,1.6e-11],[0.765,8.5e-12],[0.773,1.21e-11],[0.78,1.4e-11],[0.79,7.5e-12],[0.8,1.2e-11],[0.81,9.4e-12],[0.82,6.0e-12],[0.83,1.0e-11],[0.839,6.9e-12],[0.85,5.5e-12],[0.86,1.0e-11],[0.868,9.4e-12],[0.875,5.0e-12],[0.889,4.8e-12],[0.9,8.5e-12],[0.91,5.5e-12],[0.92,9.0e-12],[0.931,7.6e-12],[0.945,6.0e-12],[0.955,1.1e-11],[0.964,9.4e-12],[0.975,8.0e-12],[0.985,1.5e-11],[1.0,1.64e-11],[1.02,1.1e-11],[1.045,1.92e-11],[1.07,1.2e-11],[1.094,1.41e-11],[1.12,2.2e-11],[1.146,1.92e-11],[1.17,1.4e-11],[1.2,2.23e-11],[1.22,1.7e-11],[1.243,8.8e-11],[1.25,1.9e-11],[1.27,2.9e-11],[1.29,2.0e-11],[1.317,3.2e-11],[1.34,2.4e-11],[1.379,3.05e-11],[1.41,3.8e-11],[1.444,4.35e-11],[1.47,5.0e-11]
];
const errBand: B[] = [
  [1.47,4.0e-11,6.0e-11],[1.49,3.4e-11,8.0e-11],[1.51,5.35e-11,1.35e-10],[1.525,1.0e-10,4.0e-10],[1.535,1.5e-10,6.3e-10],[1.545,1.0e-10,3.0e-10],[1.56,5.35e-11,1.83e-10],[1.58,3.5e-11,9.0e-11],[1.6,2.9e-11,6.7e-11],[1.63,2.3e-11,4.5e-11],[1.67,1.8e-11,3.37e-11],[1.72,1.5e-11,2.9e-11],[1.76,1.25e-11,2.7e-11],[1.8,1.15e-11,2.3e-11],[1.87,1.0e-11,2.1e-11],[1.91,8.5e-12,2.2e-11],[1.95,8.4e-12,1.82e-11],[2.0,7.0e-12,1.9e-11],[2.04,7.5e-12,1.6e-11],[2.09,6.5e-12,1.7e-11],[2.14,7.2e-12,1.45e-11],[2.19,5.8e-12,1.6e-11],[2.24,6.2e-12,1.5e-11],[2.3,5.5e-12,1.65e-11],[2.35,6.7e-12,1.4e-11],[2.4,6.0e-12,1.6e-11],[2.45,7.0e-12,1.55e-11],[2.52,6.0e-12,1.7e-11],[2.6,7.2e-12,1.45e-11],[2.66,5.8e-12,1.6e-11],[2.72,6.0e-12,1.5e-11],[2.8,6.8e-12,1.7e-11],[2.87,7.5e-12,1.6e-11],[2.93,6.5e-12,1.75e-11],[2.98,7.6e-12,1.82e-11],[3.06,8.0e-12,1.8e-11],[3.09,1.0e-11,1.41e-10],[3.12,1.0e-11,3.0e-11],[3.2,9.8e-12,2.1e-11],[3.3,8.4e-12,2.0e-11],[3.4,7.5e-12,2.1e-11],[3.52,9.8e-12,2.3e-11],[3.6,7.2e-12,1.8e-11],[3.7,5.0e-12,1.2e-11],[3.85,3.6e-12,9.0e-12],[3.98,2.5e-12,6.2e-12],[4.1,2.0e-12,4.6e-12],[4.25,1.4e-12,3.35e-12],[4.4,1.1e-12,2.4e-12],[4.53,8.4e-13,1.68e-12],[4.7,6.0e-13,1.2e-12],[4.84,4.5e-13,9.0e-13],[5.0,3.0e-13,6.5e-13],[5.17,2.1e-13,4.5e-13],[5.35,1.5e-13,3.3e-13],[5.5,9.7e-14,2.3e-13],[5.7,7.0e-14,1.6e-13],[5.87,4.5e-14,1.14e-13],[6.05,3.5e-14,9.0e-14],[6.25,2.43e-14,7.15e-14],[6.7,1.53e-14,4.2e-14],[7.1,9.7e-15,2.63e-14],[7.6,6.1e-15,1.66e-14],[8.1,3.84e-15,1.13e-14],[8.7,2.82e-15,7.7e-15],[9.3,2.07e-15,5.24e-15],[9.9,1.31e-15,4.0e-15],[10.6,8.3e-16,3.14e-15],[11.2,7e-16,2.5e-15],[11.8,6.1e-16,1.92e-15],[12.6,5e-16,1.9e-15],[13.4,4e-16,1.41e-15],[14.2,4e-16,1.6e-15],[15.0,3.5e-16,1.31e-15],[15.2,3.5e-16,1.3e-15],[15.27,3.5e-16,6.6e-15],[15.34,3.5e-16,1.3e-15],[15.9,4e-16,1.6e-15],[16.5,4e-16,1.4e-15],[17.3,4e-16,1.7e-15],[18.2,4e-16,1.52e-15],[19.1,4e-16,1.85e-15],[20,4.5e-16,1.7e-15],[21,4.5e-16,2.1e-15],[22,4.8e-16,2.07e-15],[23.2,4.8e-16,2.4e-15],[24.5,4.8e-16,2.2e-15],[25.5,4.8e-16,2.5e-15],[26.5,4.5e-16,2.31e-15],[27.7,4.5e-16,2.5e-15],[29,4.5e-16,2.2e-15],[30.7,4.3e-16,2.35e-15],[32.5,4.2e-16,2.07e-15],[34,4e-16,2.1e-15],[35.5,4e-16,1.7e-15],[37.5,4e-16,3.14e-15],[37.7,4e-16,1.6e-15],[38.9,4e-16,1.8e-15],[40.1,4e-16,1.52e-15],[40.3,4e-16,6.4e-15],[40.5,4e-16,1.5e-15],[42,4e-16,1.6e-15],[44,4e-16,1.31e-15],[46,4e-16,1.45e-15],[48,4e-16,1.3e-15],[50.5,4e-16,1.4e-15],[53,4e-16,1.21e-15],[55,4e-16,1.35e-15],[57,4e-16,1.1e-15],[59.3,4e-16,1.2e-15],[59.6,4e-16,1.58e-14],[59.9,4e-16,1.2e-15]
];

const rmsLine: P[] = [
  [0.05,9.5e-11],[0.3,9.5e-11],[0.8,9.45e-11],[1.2,9.35e-11],[1.43,9.2e-11],[1.49,8.6e-11],[1.51,8.1e-11],[1.53,6.2e-11],[1.55,4.25e-11],[1.57,3.37e-11],[1.6,2.98e-11],[1.67,2.86e-11],[2.34,2.7e-11],[3.05,2.49e-11],[3.1,1.82e-11],[3.13,9.5e-12],[3.28,8.4e-12],[3.5,6.9e-12],[3.61,5.7e-12],[3.8,3.6e-12],[4.06,2.28e-12],[4.38,1.23e-12],[4.74,6.2e-13],[5.15,2.86e-13],[5.5,1.54e-13],[5.87,9.0e-14],[6.18,5.7e-14],[6.68,3.16e-14],[7.36,1.87e-14],[8.11,1.26e-14],[8.94,9.4e-15],[9.98,7.9e-15],[11.8,7.56e-15],[15.3,7.4e-15],[20.4,7.0e-15],[25.2,6.6e-15],[28.1,5.8e-15],[34.8,4.55e-15],[43.1,3.5e-15],[53.7,2.57e-15],[58.5,2.35e-15],[59.4,2.2e-15],[59.7,1.39e-15]
];

// ---------------- axes / ticks ----------------
const X_DOMAIN: [number, number] = [0.05, 60];
const Y_DOMAIN: [number, number] = [5e-16, 5e-6];
const xMajor = [0.1, 1, 10];
const yMajor = [1e-14, 1e-12, 1e-10, 1e-8, 1e-6];
const mantissas = [1, 2, 3, 4, 5, 6, 7, 8, 9];
const xExps = [-2, -1, 0, 1];
const yExps = [-16, -15, -14, -13, -12, -11, -10, -9, -8, -7, -6];
const xTicks = xExps.flatMap(e => mantissas.map(m => parseFloat(`${m}e${e}`))).filter(v => v > 0.0501 && v < 59.9);
const yTicks = yExps.flatMap(e => mantissas.map(m => parseFloat(`${m}e${e}`))).filter(v => v > 5.01e-16 && v < 4.99e-6);

const seriesNames = ['CPS-SRCL', 'Suspoint-SRCL', 'ifo-SRCL-L', 'ifo-SRCL-err', 'ifo-SRCL-err-rms'];
const C_BLUE = '#0072BD', C_ORANGE = '#D95319', C_YELLOW = '#EDB120', C_PURPLE = '#7E2F8E', C_GREEN = '#77AC30';
const seriesColors = [C_BLUE, C_ORANGE, C_YELLOW, C_PURPLE, C_GREEN];
const seriesWidths = [2.5, 2.5, 2.5, 2.5, 5];

const W = 1284, H = 1629;
const AX = '#4a4a4a';
const TXT = '#262626';
const SANS = "'Liberation Sans', Arial, Helvetica, sans-serif";
const ANN = "Lato, 'Open Sans', sans-serif";
const GRID_MINOR = '#c6c6c6';
const GRID_MAJOR = '#e2e2e2';

const toRows = (a: P[]) => a.map(([f, v]) => ({ f, v }));
const toBand = (a: B[]) => a.map(([f, lo, hi]) => ({ f, r: [lo, hi] }));
const isIn = (arr: number[], v: number) => arr.some(m => Math.abs(m - v) / m < 1e-6);
const expOf = (v: number) => String(Math.round(Math.log10(v)));

const LeftTick = (p: any) => {
  const { x, y, payload } = p;
  const v = payload.value;
  const major = isIn(yMajor, v);
  const len = major ? 16 : 10;
  return (
    <g>
      <line x1={x} y1={y} x2={x + len} y2={y} stroke={AX} strokeWidth={1.3} />
      {major && (
        <text x={x - 14} y={y + 18} textAnchor="end" fontFamily={SANS} fontSize={36} fill={TXT}>
          10<tspan dy={-17} fontSize={29}>{expOf(v)}</tspan>
        </text>
      )}
    </g>
  );
};
const RightTick = (p: any) => {
  const { x, y, payload } = p;
  const len = isIn(yMajor, payload.value) ? 16 : 10;
  return <line x1={x} y1={y} x2={x - len} y2={y} stroke={AX} strokeWidth={1.3} />;
};
const BottomTick = (p: any) => {
  const { x, y, payload } = p;
  const v = payload.value;
  const major = isIn(xMajor, v);
  const len = major ? 16 : 10;
  return (
    <g>
      <line x1={x} y1={y} x2={x} y2={y - len} stroke={AX} strokeWidth={1.3} />
      {major && (
        <text x={x} y={y + 60} textAnchor="middle" fontFamily={SANS} fontSize={36} fill={TXT}>
          10<tspan dy={-18} fontSize={29}>{expOf(v)}</tspan>
        </text>
      )}
    </g>
  );
};
const TopTick = (p: any) => {
  const { x, y, payload } = p;
  const len = isIn(xMajor, payload.value) ? 16 : 10;
  return <line x1={x} y1={y} x2={x} y2={y + len} stroke={AX} strokeWidth={1.3} />;
};

const bandProps = (c: string) => ({
  type: 'linear' as const, stroke: c, strokeWidth: 1.2, fill: c, fillOpacity: 1,
  isAnimationActive: false, dot: false, activeDot: false, dataKey: 'r',
});
const lineProps = (c: string, w: number) => ({
  type: 'linear' as const, stroke: c, strokeWidth: w, dot: false, activeDot: false,
  isAnimationActive: false, dataKey: 'v',
});

export default function App() {
  const legendRows = [65, 107.5, 150, 192.5, 235];
  return (
    <div style={{ position: 'absolute', left: 0, top: 0, width: W, height: H, background: '#fff', overflow: 'hidden' }}>
      <div style={{ position: 'absolute', left: 0, top: 0 }}>
        <ComposedChart width={W} height={H} margin={{ top: 15, right: 20, bottom: 0, left: 0 }}>
          <CartesianGrid stroke={GRID_MINOR} strokeDasharray="1.5 2.5" strokeWidth={1} />
          <XAxis dataKey="f" type="number" scale="log" domain={X_DOMAIN} allowDataOverflow ticks={xTicks} interval={0}
            height={117} tickSize={0} tickMargin={0} tickLine={false} axisLine={{ stroke: AX, strokeWidth: 1.3 }} tick={BottomTick} />
          <XAxis xAxisId="top" orientation="top" dataKey="f" type="number" scale="log" domain={X_DOMAIN} allowDataOverflow ticks={xTicks} interval={0}
            height={0} tickSize={0} tickMargin={0} tickLine={false} axisLine={{ stroke: AX, strokeWidth: 1.3 }} tick={TopTick} />
          <YAxis type="number" scale="log" domain={Y_DOMAIN} allowDataOverflow ticks={yTicks} interval={0}
            width={169} tickSize={0} tickMargin={0} tickLine={false} axisLine={{ stroke: AX, strokeWidth: 1.3 }} tick={LeftTick} />
          <YAxis yAxisId="right" orientation="right" type="number" scale="log" domain={Y_DOMAIN} allowDataOverflow ticks={yTicks} interval={0}
            width={0} tickSize={0} tickMargin={0} tickLine={false} axisLine={{ stroke: AX, strokeWidth: 1.3 }} tick={RightTick} />

          {yMajor.map(m => (
            <Line key={'gy' + m} xAxisId="top" yAxisId="right" data={[{ f: X_DOMAIN[0], v: m }, { f: X_DOMAIN[1], v: m }]}
              {...lineProps(GRID_MAJOR, 1.5)} />
          ))}
          {xMajor.map(m => (
            <Line key={'gx' + m} xAxisId="top" yAxisId="right" data={[{ f: m, v: Y_DOMAIN[0] }, { f: m, v: Y_DOMAIN[1] }]}
              {...lineProps(GRID_MAJOR, 1.5)} />
          ))}

          <Area data={toBand(cpsBand)} {...bandProps(C_BLUE)} />
          <Line data={toRows(cpsLine)} {...lineProps(C_BLUE, 2.2)} />
          <Area data={toBand(susBand)} {...bandProps(C_ORANGE)} />
          <Line data={toRows(susLine)} {...lineProps(C_ORANGE, 2.2)} />
          <Area data={toBand(ifoLBand)} {...bandProps(C_YELLOW)} />
          <Line data={toRows(ifoLLine)} {...lineProps(C_YELLOW, 2.2)} />
          <Area data={toBand(errBand)} {...bandProps(C_PURPLE)} />
          <Line data={toRows(errLine)} {...lineProps(C_PURPLE, 2)} />
          <Line data={toRows(rmsLine)} {...lineProps(C_GREEN, 4)} />
        </ComposedChart>
      </div>

      <svg width={W} height={H} style={{ position: 'absolute', left: 0, top: 0, pointerEvents: 'none' }}>
        {/* cut-off title, as in the reference */}
        <text x={496} y={-1} fontFamily={SANS} fontWeight={700} fontSize={40} fill="#8C5BEF">g</text>
        <text x={661} y={4} fontFamily={SANS} fontWeight={700} fontSize={40} fill="#111" textLength={110} lengthAdjust="spacingAndGlyphs">SRCL</text>

        {/* legend */}
        <rect x={878.5} y={39.5} width={361} height={220.5} fill="#fff" stroke={TXT} strokeWidth={1.2} />
        {seriesNames.map((n, i) => (
          <g key={n}>
            <line x1={888} x2={958} y1={legendRows[i]} y2={legendRows[i]} stroke={seriesColors[i]} strokeWidth={seriesWidths[i]} />
            <text x={966} y={legendRows[i] + 11.7} fontFamily={SANS} fontSize={34} fill="#000">{n}</text>
          </g>
        ))}

        {/* annotations */}
        <g transform="translate(630.7,229.8) rotate(43)">
          <text x={0} y={0} textAnchor="middle" fontFamily={ANN} fontWeight={700} fontSize={52} fill="#C59A1B" textLength={240} lengthAdjust="spacingAndGlyphs">SRCL-ISC</text>
        </g>
        <g transform="translate(593,280) rotate(43)">
          <text x={0} y={0} textAnchor="middle" fontFamily={ANN} fontWeight={700} fontSize={52} fill="#C59A1B" textLength={458} lengthAdjust="spacingAndGlyphs">Equiv. Open Loop</text>
        </g>
        <line x1={614} y1={300} x2={599} y2={347} stroke="#C59A1B" strokeWidth={6} />
        <polygon points="580,342 615,356 589,379" fill="#C59A1B" />

        <text x={1002} y={638} fontFamily={ANN} fontWeight={700} fontSize={52} fill="#0866C2" textLength={276} lengthAdjust="spacingAndGlyphs">SRCL-CPS</text>
        <text x={197.5} y={708} fontFamily={ANN} fontWeight={700} fontSize={51} fill="#008A2E" textLength={350} lengthAdjust="spacingAndGlyphs">residual RMS</text>
        <text x={297.5} y={971.7} fontFamily={ANN} fontWeight={700} fontSize={51} fill="#7B3C98" textLength={277} lengthAdjust="spacingAndGlyphs">SRCL-ISC,</text>
        <text x={172.5} y={1033.3} fontFamily={ANN} fontWeight={700} fontSize={51} fill="#7B3C98" textLength={525} lengthAdjust="spacingAndGlyphs">closed loop residual</text>
        <g transform="translate(1092,1034) rotate(39)">
          <text x={0} y={0} textAnchor="middle" fontFamily={ANN} fontWeight={700} fontSize={51} fill="#C82308" textLength={392} lengthAdjust="spacingAndGlyphs">SRCL-SusPoint</text>
        </g>

        {/* axis labels */}
        <text x={715} y={1619} textAnchor="middle" fontFamily={SANS} fontSize={40} fill={TXT}>freq (Hz)</text>
        <g transform="translate(54,763) rotate(-90)">
          <text x={0} y={0} textAnchor="middle" fontFamily={SANS} fontSize={41} fill={TXT} textLength={372} lengthAdjust="spacingAndGlyphs">motion ASD, m/rtHz</text>
        </g>
        <g transform="translate(1280,1510) rotate(-90)">
          <text x={0} y={0} fontFamily={SANS} fontSize={17.6} fill={TXT}>created by process_LLO_SRCL_v2.m on 02-Dec-2020</text>
        </g>
      </svg>
    </div>
  );
}
